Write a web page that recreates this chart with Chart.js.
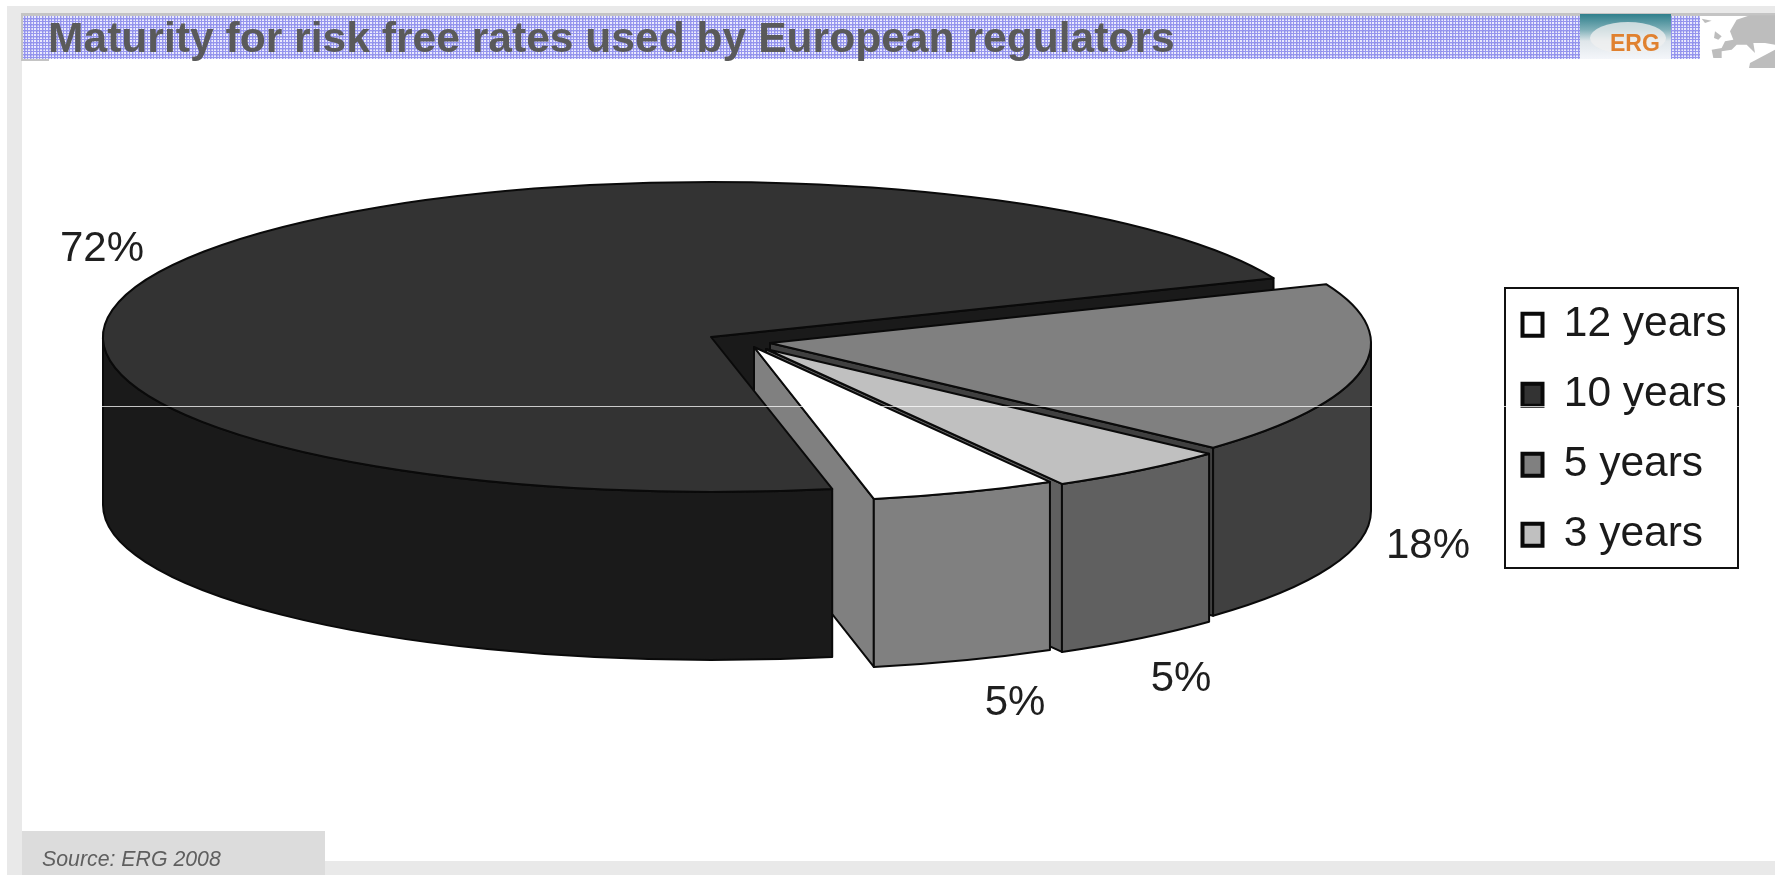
<!DOCTYPE html>
<html><head><meta charset="utf-8">
<style>html,body{margin:0;padding:0;background:#fff}canvas{display:block}</style>
<script src="https://cdn.jsdelivr.net/npm/chart.js@4/dist/chart.umd.min.js"></script>
</head><body><canvas id="c" width="1775" height="875"></canvas>
<script>
const titleText = 'Maturity for risk free rates used by European regulators';
const sourceText = 'Source: ERG 2008';
const categories = ['12 years', '10 years', '5 years', '3 years'];
const shares = [5, 72, 18, 5];
const topColours = ['#ffffff', '#333333', '#808080', '#c0c0c0'];
const sideColours = ['#808080', '#1a1a1a', '#404040', '#606060'];

// layout of the tilted, exploded pie (pixels on the page)
const sliceCx = [754, 711, 770, 766];
const sliceCy = [347, 337, 343, 349];
const sliceRx = [601, 608, 601, 601];
const RY = 155, DEPTH = 168;
const labelX = [1015, 102, 1428, 1181];
const labelY = [703, 249, 546, 679];
const FONT = '"Liberation Sans", Arial, sans-serif';
const TAU = Math.PI * 2;

function pt(i, a, dz) {
  return [sliceCx[i] + sliceRx[i] * Math.cos(a), sliceCy[i] + RY * Math.sin(a) + (dz || 0)];
}
function finish(ctx, fill) {
  ctx.fillStyle = fill; ctx.fill();
  ctx.strokeStyle = '#0a0a0a'; ctx.lineWidth = 2; ctx.lineJoin = 'round'; ctx.stroke();
}
function cutFace(ctx, i, a) {
  const r = pt(i, a), c = [sliceCx[i], sliceCy[i]];
  ctx.beginPath();
  ctx.moveTo(c[0], c[1]); ctx.lineTo(r[0], r[1]);
  ctx.lineTo(r[0], r[1] + DEPTH); ctx.lineTo(c[0], c[1] + DEPTH);
  ctx.closePath();
  finish(ctx, sideColours[i]);
}
function outerWall(ctx, i, a0, a1) {
  for (let k = -1; k < 3; k++) {
    const s = Math.max(a0, k * TAU), e = Math.min(a1, k * TAU + Math.PI);
    if (e <= s) continue;
    ctx.beginPath();
    ctx.ellipse(sliceCx[i], sliceCy[i], sliceRx[i], RY, 0, s, e);
    ctx.ellipse(sliceCx[i], sliceCy[i] + DEPTH, sliceRx[i], RY, 0, e, s, true);
    ctx.closePath();
    finish(ctx, sideColours[i]);
  }
}
function topFace(ctx, i, arc) {
  const R = arc.outerRadius;
  ctx.save();
  ctx.translate(sliceCx[i], sliceCy[i]);
  ctx.scale(sliceRx[i] / R, RY / R);
  ctx.translate(-arc.x, -arc.y);
  arc.draw(ctx);
  ctx.restore();
  ctx.beginPath();
  ctx.moveTo(sliceCx[i], sliceCy[i]);
  ctx.ellipse(sliceCx[i], sliceCy[i], sliceRx[i], RY, 0, arc.startAngle, arc.endAngle);
  ctx.closePath();
  ctx.strokeStyle = '#0a0a0a'; ctx.lineWidth = 2; ctx.lineJoin = 'round'; ctx.stroke();
}

function meshPattern(ctx) {
  const p = document.createElement('canvas'); p.width = 12; p.height = 12;
  const g = p.getContext('2d');
  g.fillStyle = '#ebebfd'; g.fillRect(0, 0, 12, 12);
  g.fillStyle = '#9696ee';
  for (let n = 0; n < 12; n += 3) { g.fillRect(n, 0, 1, 12); g.fillRect(0, n, 12, 1); }
  g.fillStyle = 'rgba(120,120,230,.3)';
  g.fillRect(1, 0, 1, 12); g.fillRect(7, 0, 1, 12); g.fillRect(0, 1, 12, 1); g.fillRect(0, 7, 12, 1);
  return ctx.createPattern(p, 'repeat');
}
function poly(ctx, pts, fill) {
  ctx.beginPath();
  pts.forEach((q, n) => { const x = 1650 + q[0] / 3, y = 8 + q[1] / 3; n ? ctx.lineTo(x, y) : ctx.moveTo(x, y); });
  ctx.closePath(); ctx.fillStyle = fill; ctx.fill();
}

const frame3d = {
  id: 'frame3d',
  beforeDraw(chart) {
    const ctx = chart.ctx;
    ctx.save();
    ctx.fillStyle = '#ffffff'; ctx.fillRect(0, 0, 1775, 875);
    ctx.fillStyle = '#e9e9e9';
    ctx.fillRect(7, 6, 1768, 8); ctx.fillRect(7, 6, 15, 869); ctx.fillRect(7, 861, 1768, 14);
    ctx.fillStyle = '#dcdcdc'; ctx.fillRect(22, 831, 303, 44);
    ctx.fillStyle = meshPattern(ctx); ctx.fillRect(21, 16, 1679, 43);
    ctx.fillStyle = '#c4c4c4';
    ctx.fillRect(21, 13, 1754, 3); ctx.fillRect(21, 13, 2, 48); ctx.fillRect(21, 59, 28, 2);
    // ERG logo
    const lg = ctx.createLinearGradient(0, 14, 0, 59);
    lg.addColorStop(0, '#2f7f8c'); lg.addColorStop(.35, '#7fb0b8'); lg.addColorStop(.6, '#dfe6ea'); lg.addColorStop(1, '#f4f6fa');
    ctx.fillStyle = lg; ctx.fillRect(1580, 14, 91, 45);
    ctx.fillStyle = 'rgba(240,240,240,.75)';
    ctx.beginPath(); ctx.ellipse(1628, 38, 38, 16, 0, 0, TAU); ctx.fill();
    ctx.fillStyle = '#e0812f'; ctx.font = 'bold 23px ' + FONT;
    ctx.textAlign = 'left'; ctx.textBaseline = 'alphabetic';
    ctx.fillText('ERG', 1610, 51);
    // Europe map
    const grey = '#bdbdbd';
    ctx.fillStyle = '#ffffff'; ctx.fillRect(1700, 16, 75, 56);
    poly(ctx, [[185,125],[215,120],[225,100],[250,95],[240,70],[260,35],[300,22],[375,22],[375,110],[345,105],[310,105],[315,135],[290,110],[260,110],[245,125],[215,130],[215,150],[190,150]], grey);
    poly(ctx, [[195,70],[215,85],[205,95],[192,90]], grey);
    poly(ctx, [[300,165],[375,125],[375,180],[297,180]], grey);
    poly(ctx, [[155,32],[185,38],[165,45]], grey);
    ctx.restore();
  },
  afterLayout(chart) {
    const t = chart.titleBlock;
    t.left = 48; t.right = 1500; t.top = 19; t.bottom = 62;
    const s = chart.$subtitle;
    if (s) { s.left = 42; s.right = 320; s.top = 849; s.bottom = 870; }
    const l = chart.legend;
    l.left = 1495; l.right = 1738; l.top = 276; l.bottom = 700;
  },
  beforeDatasetDraw(chart, args) {
    const ctx = chart.ctx, arcs = args.meta.data;
    ctx.save();
    // painter's order: all visible cut faces, then the 10 years body, then the exploded slices
    [1, 2, 3, 0].forEach(i => cutFace(ctx, i, arcs[i].endAngle));
    [1, 2, 3, 0].forEach(i => {
      outerWall(ctx, i, arcs[i].startAngle, arcs[i].endAngle);
      topFace(ctx, i, arcs[i]);
    });
    ctx.restore();
    return false;
  },
  afterDraw(chart) {
    const ctx = chart.ctx;
    ctx.save();
    ctx.fillStyle = '#1f1f1f'; ctx.font = '42px ' + FONT;
    ctx.textAlign = 'center'; ctx.textBaseline = 'middle';
    shares.forEach((v, i) => ctx.fillText(v + '%', labelX[i], labelY[i]));
    ctx.strokeStyle = '#111'; ctx.lineWidth = 2;
    ctx.strokeRect(1505, 288, 233, 280);
    ctx.fillStyle = 'rgba(255,255,255,.75)';
    ctx.fillRect(22, 406, 1753, 1);
    ctx.restore();
  }
};

new Chart(document.getElementById('c'), {
  type: 'pie',
  data: {
    labels: categories,
    datasets: [{ data: shares, backgroundColor: topColours, borderWidth: 0, offset: 0 }]
  },
  options: {
    responsive: false, animation: false, devicePixelRatio: 1,
    rotation: 150.5,
    events: [],
    plugins: {
      tooltip: { enabled: false },
      title: {
        display: true, text: titleText, align: 'start', color: '#5a5a5a', padding: 0,
        font: { family: FONT, size: 42.6, weight: 'bold', lineHeight: 1 }
      },
      subtitle: {
        display: true, text: sourceText, align: 'start', position: 'bottom', color: '#5f5f5f', padding: 0,
        font: { family: FONT, size: 21.3, style: 'italic', weight: 'normal', lineHeight: 1 }
      },
      legend: {
        display: true, position: 'right', align: 'start',
        labels: {
          boxWidth: 20, boxHeight: 22, padding: 27.5, color: '#1a1a1a',
          font: { family: FONT, size: 42.5, lineHeight: 1 },
          generateLabels(chart) {
            return Chart.overrides.doughnut.plugins.legend.labels.generateLabels(chart)
              .map(it => Object.assign(it, { strokeStyle: '#0a0a0a', lineWidth: 4 }));
          }
        }
      }
    }
  },
  plugins: [{ id: 'subRef', beforeLayout(chart) {
    chart.$subtitle = chart.boxes.find(b => b.options && b.options.text === sourceText);
  } }, frame3d]
});
</script></body></html>
